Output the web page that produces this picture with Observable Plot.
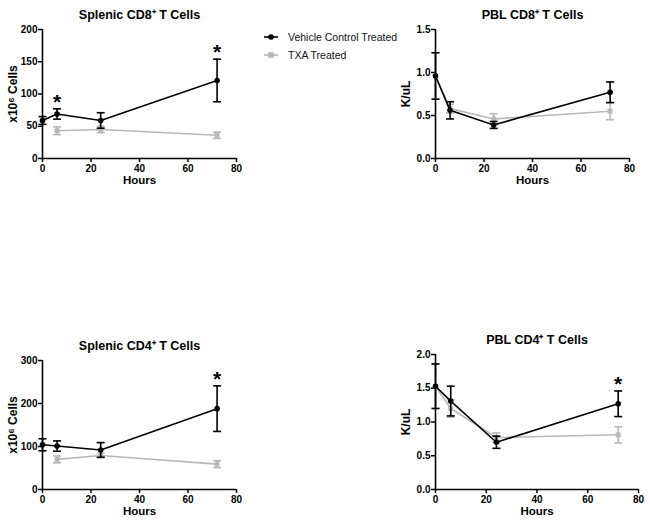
<!DOCTYPE html>
<html><head><meta charset="utf-8">
<script src="https://cdn.jsdelivr.net/npm/d3@7"></script>
<script src="https://cdn.jsdelivr.net/npm/@observablehq/plot@0.6"></script>
<style>
body{margin:0;background:#fff;width:650px;height:523px;position:relative;overflow:hidden;font-family:"Liberation Sans",Arial,sans-serif}
.panel{position:absolute}
.panel svg{overflow:visible}
#legend{position:absolute;left:262px;top:28px;font-size:10.5px;color:#111}
#legend .row{display:flex;align-items:center;height:18px}
#legend svg{margin-right:8px}
</style></head><body>
<div id="p1" class="panel" style="left:0;top:0"></div>
<div id="p2" class="panel" style="left:330px;top:0"></div>
<div id="p3" class="panel" style="left:0;top:320px"></div>
<div id="p4" class="panel" style="left:330px;top:320px"></div>
<div id="legend"></div>
<script>
// ---- data ----
const hours = [0, 6, 24, 72];
const xTicks = [0, 20, 40, 60, 80];
const seriesNames = ["Vehicle Control Treated", "TXA Treated"];

const titles = ["Splenic CD8\u207A T Cells", "PBL CD8\u207A T Cells", "Splenic CD4\u207A T Cells", "PBL CD4\u207A T Cells"];
const yLabels = ["x10\u2076 Cells", "K/uL", "x10\u2076 Cells", "K/uL"];

const splenicCD8Vehicle = [59, 69, 59, 121];
const splenicCD8VehicleErr = [6, 8, 12, 33];
const splenicCD8Txa = [null, 43, 45, 36];
const splenicCD8TxaErr = [null, 6, 5, 5];
const splenicCD8Stars = [6, 72];
const splenicCD8Ticks = [0, 50, 100, 150, 200];

const pblCD8Vehicle = [0.96, 0.56, 0.39, 0.77];
const pblCD8VehicleErr = [0.27, 0.10, 0.04, 0.12];
const pblCD8Txa = [0.96, 0.58, 0.46, 0.55];
const pblCD8TxaErr = [0.27, 0.05, 0.06, 0.10];
const pblCD8Stars = [];
const pblCD8Ticks = [0, 0.5, 1.0, 1.5];

const splenicCD4Vehicle = [104, 101, 92, 188];
const splenicCD4VehicleErr = [14, 12, 17, 53];
const splenicCD4Txa = [null, 70, 79, 59];
const splenicCD4TxaErr = [null, 8, 5, 8];
const splenicCD4Stars = [72];
const splenicCD4Ticks = [0, 100, 200, 300];

const pblCD4Vehicle = [1.53, 1.31, 0.70, 1.27];
const pblCD4VehicleErr = [0.33, 0.22, 0.09, 0.19];
const pblCD4Txa = [1.53, 1.20, 0.77, 0.81];
const pblCD4TxaErr = [0.33, 0.13, 0.07, 0.12];
const pblCD4Stars = [72];
const pblCD4Ticks = [0, 0.5, 1.0, 1.5, 2.0];

const vehicleColor = "#000000";
const txaColor = "#b8b8b8";

// ---- drawing ----
const cap = {draw(ctx) { ctx.moveTo(-4, 0); ctx.lineTo(4, 0); }};

function toRows(mean, err) {
  return hours.map((h, i) => ({h, m: mean[i], e: err[i]})).filter(d => d.m != null);
}

function layer(rows, color, symbol, r) {
  return [
    Plot.line(rows, {x: "h", y: "m", stroke: color, strokeWidth: 1.6}),
    Plot.ruleX(rows, {x: "h", y1: d => d.m - d.e, y2: d => d.m + d.e, stroke: color, strokeWidth: 1.6}),
    Plot.dot(rows, {x: "h", y: d => d.m + d.e, symbol: cap, fill: "none", stroke: color, strokeWidth: 1.6}),
    Plot.dot(rows, {x: "h", y: d => d.m - d.e, symbol: cap, fill: "none", stroke: color, strokeWidth: 1.6}),
    Plot.dot(rows, {x: "h", y: "m", symbol, fill: color, stroke: "none", r})
  ];
}

function panel(c) {
  const veh = toRows(c.vehicle, c.vehicleErr);
  const txa = toRows(c.txa, c.txaErr);
  const stars = veh.filter(d => c.stars.includes(d.h));
  const yMax = c.ticks[c.ticks.length - 1];
  return Plot.plot({
    width: c.w, height: c.h,
    marginLeft: c.ml, marginRight: c.mr, marginTop: c.mt, marginBottom: c.mb,
    style: {fontFamily: "'Liberation Sans', Arial, sans-serif", fontSize: "10px", fontWeight: "bold", color: "#000", background: "transparent", overflow: "visible"},
    x: {domain: [0, 80]},
    y: {domain: [0, yMax]},
    marks: [
      Plot.axisX({ticks: xTicks, tickSize: 4, tickPadding: 2, strokeWidth: 1.5, label: null}),
      Plot.axisY({ticks: c.ticks, tickFormat: c.fmt, tickSize: 4, tickPadding: 1, strokeWidth: 1.5, label: null}),
      Plot.ruleX([0], {stroke: "#000", strokeWidth: 1.6}),
      Plot.ruleY([0], {stroke: "#000", strokeWidth: 1.6}),
      ...layer(txa, txaColor, "square", 2.8),
      ...layer(veh, vehicleColor, "circle", 2.8),
      Plot.text(stars, {x: "h", y: d => d.m + d.e, text: () => "*", dy: -7, fontSize: 21, fill: "#000"}),
      Plot.text([c.title], {frameAnchor: "top", dy: -19, fontSize: 12.5, fill: "#000"}),
      Plot.text([c.yLabel], {frameAnchor: "left", textAnchor: "middle", dx: -29, rotate: -90, fontSize: 12, fill: "#000"}),
      Plot.text(["Hours"], {frameAnchor: "bottom", dy: 25, fontSize: 11.5, fill: "#000"})
    ]
  });
}

const fmtInt = d3.format("d");
const fmt1 = d3.format(".1f");

document.getElementById("p1").append(panel({
  title: titles[0], yLabel: yLabels[0], vehicle: splenicCD8Vehicle, vehicleErr: splenicCD8VehicleErr,
  txa: splenicCD8Txa, txaErr: splenicCD8TxaErr, stars: splenicCD8Stars, ticks: splenicCD8Ticks, fmt: fmtInt,
  w: 325, h: 195, ml: 42, mr: 89, mt: 29, mb: 37
}));
document.getElementById("p2").append(panel({
  title: titles[1], yLabel: yLabels[1], vehicle: pblCD8Vehicle, vehicleErr: pblCD8VehicleErr,
  txa: pblCD8Txa, txaErr: pblCD8TxaErr, stars: pblCD8Stars, ticks: pblCD8Ticks, fmt: fmt1,
  w: 320, h: 195, ml: 105, mr: 21, mt: 29, mb: 37
}));
document.getElementById("p3").append(panel({
  title: titles[2], yLabel: yLabels[2], vehicle: splenicCD4Vehicle, vehicleErr: splenicCD4VehicleErr,
  txa: splenicCD4Txa, txaErr: splenicCD4TxaErr, stars: splenicCD4Stars, ticks: splenicCD4Ticks, fmt: fmtInt,
  w: 325, h: 203, ml: 42, mr: 89, mt: 40, mb: 34
}));
document.getElementById("p4").append(panel({
  title: titles[3], yLabel: yLabels[3], vehicle: pblCD4Vehicle, vehicleErr: pblCD4VehicleErr,
  txa: pblCD4Txa, txaErr: pblCD4TxaErr, stars: pblCD4Stars, ticks: pblCD4Ticks, fmt: fmt1,
  w: 320, h: 203, ml: 105, mr: 12, mt: 34, mb: 34
}));

// legend
const legend = document.getElementById("legend");
[[seriesNames[0], vehicleColor, "circle"], [seriesNames[1], txaColor, "square"]].forEach(([name, color, shape]) => {
  const row = document.createElement("div");
  row.className = "row";
  const mk = shape === "circle"
    ? `<circle cx="9" cy="5" r="2.8" fill="${color}"/>`
    : `<rect x="6.2" y="2.2" width="5.6" height="5.6" fill="${color}"/>`;
  row.innerHTML = `<svg width="18" height="10"><line x1="2" x2="16" y1="5" y2="5" stroke="${color}" stroke-width="1.6"/>${mk}</svg><span>${name}</span>`;
  legend.append(row);
});
</script>
</body></html>
